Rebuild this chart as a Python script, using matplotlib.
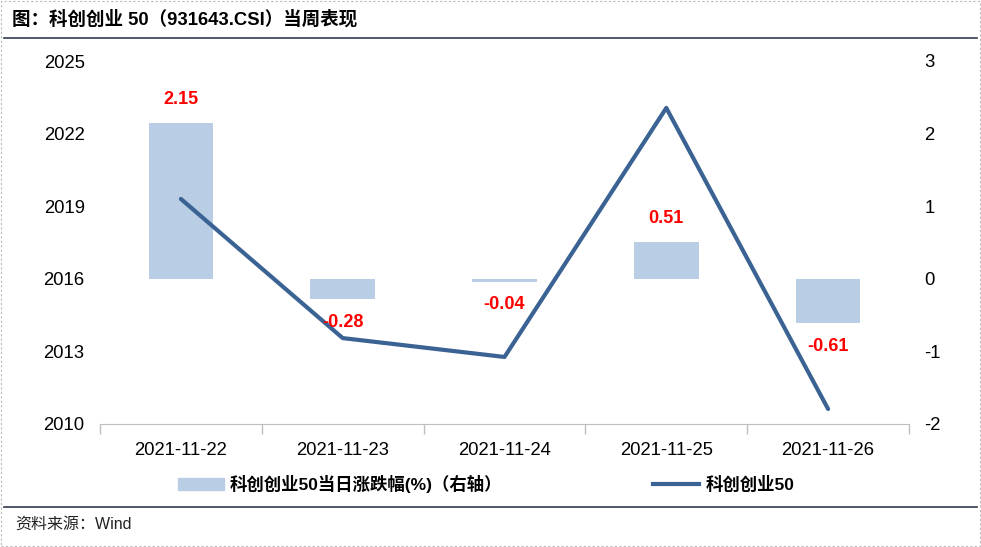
import matplotlib
matplotlib.use("Agg")
import matplotlib.pyplot as plt
from matplotlib.lines import Line2D
from matplotlib.patches import Rectangle

plt.rcParams['font.family'] = ['Liberation Sans', 'Noto Sans CJK SC', 'DejaVu Sans']
plt.rcParams['axes.unicode_minus'] = False

dates = ["2021-11-22", "2021-11-23", "2021-11-24", "2021-11-25", "2021-11-26"]
index_values = [2019.3, 2013.55, 2012.77, 2023.06, 2010.62]
pct_change = [2.15, -0.28, -0.04, 0.51, -0.61]
left_ticks = [2010, 2013, 2016, 2019, 2022, 2025]
right_ticks = [-2, -1, 0, 1, 2, 3]

bar_color = "#B9CDE5"
line_color = "#3A6394"

fig = plt.figure(figsize=(9.81, 5.47), dpi=100)
ax = fig.add_axes([100/981, 1-424/547, (909-100)/981, (424-61)/547])
ax2 = ax.twinx()

x = list(range(len(dates)))
ax2.bar(x, pct_change, width=0.4, color=bar_color, zorder=1)
ax.plot(x, index_values, color=line_color, linewidth=3, solid_capstyle='round', zorder=3)
ax.set_zorder(ax2.get_zorder() + 1)
ax.patch.set_visible(False)

ax.set_xlim(-0.5, len(dates) - 0.5)
ax.set_ylim(left_ticks[0], left_ticks[-1])
ax.set_yticks(left_ticks)
ax2.set_ylim(right_ticks[0], right_ticks[-1])
ax2.set_yticks(right_ticks)

ax.set_xticks(x)
ax.set_xticklabels(dates)
ax.set_xticks([i - 0.5 for i in range(len(dates) + 1)], minor=True)
ax.tick_params(axis='x', which='major', length=0, pad=13, labelsize=13.3)
ax.tick_params(axis='x', which='minor', length=7, color='#BFBFBF', width=1)
ax.tick_params(axis='y', length=0, labelsize=13.3, pad=11)
ax2.tick_params(axis='y', length=0, labelsize=13.3, pad=11)

for a in (ax, ax2):
    for s in ('top', 'left', 'right'):
        a.spines[s].set_visible(False)
    a.spines['bottom'].set_color('#BFBFBF')
ax2.spines['bottom'].set_visible(False)

for xi, v in zip(x, pct_change):
    off = 23 if v >= 0 else -23
    ax.annotate(f"{v:.2f}", (xi, v), xycoords=ax2.transData, xytext=(0, off),
                textcoords='offset pixels', ha='center', va='center', color='#FF0000',
                fontsize=13, fontweight='bold', zorder=5)

handles = [Rectangle((0, 0), 1, 1, color=bar_color), Line2D([0], [0], color=line_color, linewidth=3)]
labels = ["科创创业50当日涨跌幅(%)（右轴）", "科创创业50"]
fig.legend(handles, labels, loc='center', bbox_to_anchor=(486/981, 1-484/547), ncol=2,
           frameon=False, prop={'size': 12.5, 'weight': 'bold'}, handlelength=2.65,
           handletextpad=0.35, columnspacing=8.7, handleheight=0.65, borderpad=0)

fig.text(12/981, 1-19/547, "图：科创创业 50（931643.CSI）当周表现", fontsize=13.3, fontweight='bold',
         ha='left', va='center')
fig.text(15/981, 1-524/547, "资料来源：Wind", fontsize=11.5, ha='left', va='center', color='#222222')

fig.add_artist(Line2D([4/981, 977/981], [1-38/547, 1-38/547], color='#2F3B4C', linewidth=1.2))
fig.add_artist(Line2D([4/981, 977/981], [1-507/547, 1-507/547], color='#2F3B4C', linewidth=1.2))
fig.add_artist(Rectangle((1/981, 1/547), 979/981, 545/547, fill=False, edgecolor='#BBBBBB',
                         linestyle=(0, (2, 2)), linewidth=0.8))

fig.savefig("out.png", dpi=100)
